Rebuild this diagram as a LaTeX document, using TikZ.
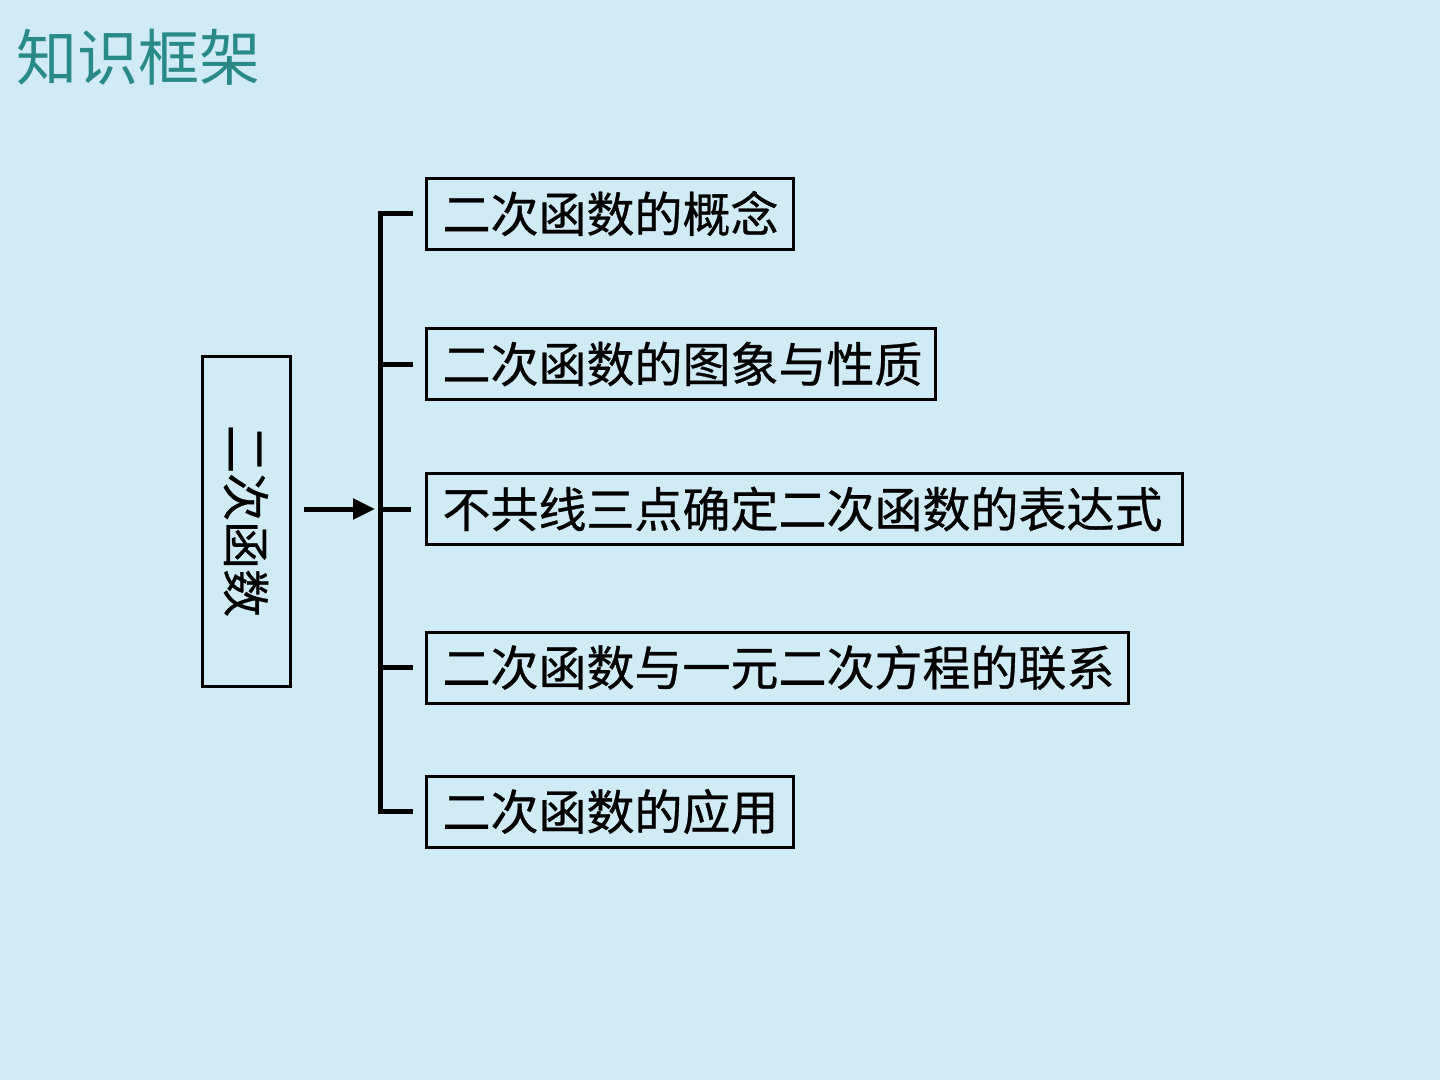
\documentclass[tikz,border=0pt]{standalone}
\usepackage{fontspec}
\usepackage{graphicx}
\newfontfamily\cjk{Noto Sans CJK SC}
\newfontfamily\cjkb[FakeBold=0.6]{Noto Sans CJK SC}
\usetikzlibrary{arrows.meta}
\definecolor{bgblue}{HTML}{D0EBF6}
\definecolor{titleteal}{HTML}{2A8A88}
\begin{document}
\begin{tikzpicture}[x=1pt,y=-1pt,
  box/.style={draw=black, line width=3pt, anchor=west, align=left,
    inner xsep=16pt, inner ysep=0pt, minimum height=71pt,
    font=\fontsize{48}{50}\cjkb},
  bracketline/.style={line width=5pt, line join=miter, line cap=butt},
  mainarrow/.style={line width=5pt, -{Triangle[length=22pt,width=20pt]}}]
\fill[bgblue] (0,0) rectangle (1440,1080);
\useasboundingbox (0,0) rectangle (1440,1080);

\node[anchor=west, text=titleteal, font=\fontsize{61}{64}\cjk, inner sep=0pt] (title) at (16,57) {知识框架};

\node[draw=black, line width=3pt, minimum width=88pt, minimum height=330pt, inner sep=0pt,
  font=\fontsize{48}{50}\cjkb] (main) at (246,521) {\rotatebox{-90}{二次函数}};

\node[box, text width=335pt] (b1) at (425,213.5) {二次函数的概念};
\node[box, text width=477pt] (b2) at (425,364) {二次函数的图象与性质};
\node[box, text width=724pt] (b3) at (425,509) {不共线三点确定二次函数的表达式};
\node[box, text width=670pt] (b4) at (425,667.5) {二次函数与一元二次方程的联系};
\node[box, text width=335pt] (b5) at (425,811.5) {二次函数的应用};

\coordinate (spine) at (380,0);
\draw[bracketline] ([xshift=-12pt]b1.west) -- (spine|-b1.west) -- (spine|-b5.west) -- ([xshift=-12pt]b5.west);
\draw[bracketline] (spine|-b2.west) -- ([xshift=-12pt]b2.west);
\draw[bracketline] (spine|-b3.west) -- ([xshift=-14pt]b3.west);
\draw[bracketline] (spine|-b4.west) -- ([xshift=-12pt]b4.west);

\draw[mainarrow] ([xshift=12pt]main.east|-b3.west) -- ([xshift=-5pt]spine|-b3.west);
\end{tikzpicture}
\end{document}
